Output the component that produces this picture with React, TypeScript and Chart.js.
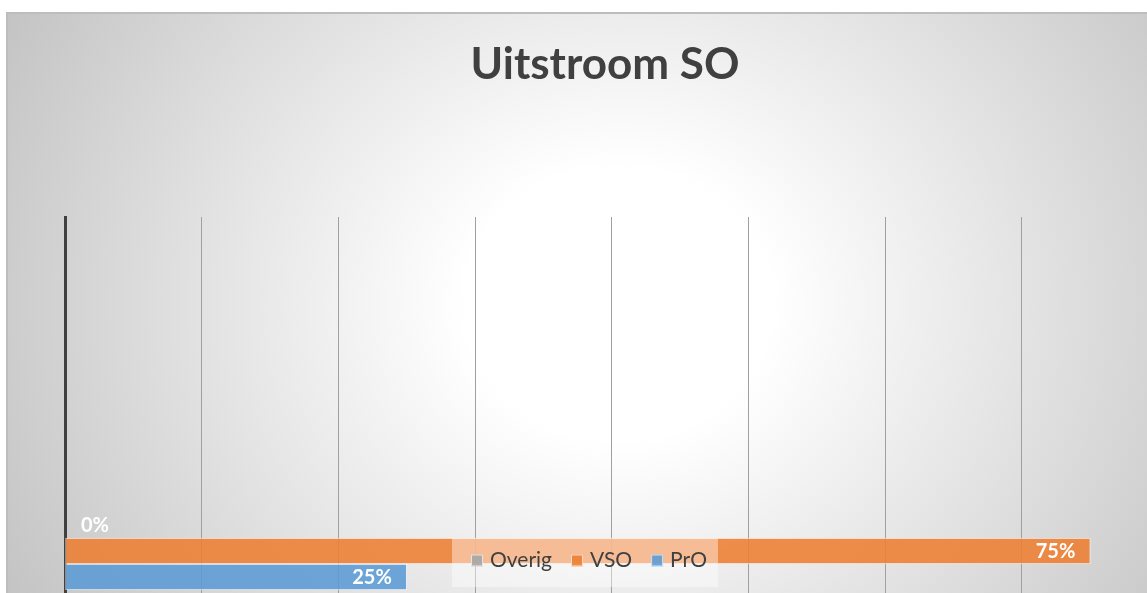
import React, { useEffect, useRef } from "react";
import { Chart, registerables } from "chart.js";

Chart.register(...registerables);

const chartTitle = "Uitstroom SO";
const seriesNames = ["Overig", "VSO", "PrO"];
const seriesValues = [0, 75, 25];
const seriesColors = [
  "rgba(165,165,165,0.88)",
  "rgba(237,125,49,0.88)",
  "rgba(91,155,213,0.88)",
];
const gridTicks = [10, 20, 30, 40, 50, 60, 70];

const FONT = "Lato, 'Open Sans', 'Liberation Sans', sans-serif";

const labelsPlugin = {
  id: "excelLabelsLegend",
  afterDatasetsDraw(chart: any) {
    const ctx = chart.ctx as CanvasRenderingContext2D;
    ctx.save();
    // overlay legend
    const boxX = 452;
    const boxY = 538;
    const boxH = 49;
    ctx.font = `21px ${FONT}`;
    const items = chart.data.datasets.map((d: any) => ({
      label: d.label as string,
      color: d.backgroundColor as string,
      w: ctx.measureText(d.label).width,
    }));
    let total = 19;
    items.forEach((it: any, i: number) => {
      total += 12 + 7 + it.w + (i < items.length - 1 ? 19 : 11);
    });
    ctx.fillStyle = "rgba(255,255,255,0.42)";
    ctx.fillRect(boxX, boxY, total, boxH);
    let cx = boxX + 19;
    items.forEach((it: any) => {
      ctx.fillStyle = it.color;
      ctx.fillRect(cx, 554.5, 12, 12);
      ctx.strokeStyle = "rgba(255,255,255,0.7)";
      ctx.lineWidth = 1;
      ctx.strokeRect(cx + 0.5, 555, 11, 11);
      ctx.fillStyle = "#404040";
      ctx.textAlign = "left";
      ctx.textBaseline = "alphabetic";
      ctx.fillText(it.label, cx + 19, 567);
      cx += 12 + 7 + it.w + 19;
    });
    // data labels
    ctx.font = `bold 20px ${FONT}`;
    ctx.fillStyle = "#ffffff";
    ctx.textBaseline = "alphabetic";
    chart.data.datasets.forEach((d: any, di: number) => {
      const meta = chart.getDatasetMeta(di);
      meta.data.forEach((el: any, i: number) => {
        const v = d.data[i].x;
        const txt = `${v}%`;
        if (v > 0) {
          ctx.textAlign = "right";
          ctx.fillText(txt, el.x - 15, el.y + 7);
        } else {
          ctx.textAlign = "left";
          ctx.fillText(txt, el.base + 16, el.y + 7);
        }
      });
    });
    ctx.restore();
  },
};

export default function App() {
  const canvasRef = useRef<HTMLCanvasElement | null>(null);

  useEffect(() => {
    document.body.style.margin = "0";
    const canvas = canvasRef.current;
    if (!canvas) return;
    const chart = new Chart(canvas, {
      type: "bar",
      data: {
        datasets: seriesNames.map((name, i) => ({
          label: name,
          data: [{ x: seriesValues[i], y: 0 }],
          backgroundColor: seriesColors[i],
          borderColor: "rgba(255,255,255,0.6)",
          borderWidth: 1,
          borderSkipped: false,
          barThickness: 26,
        })),
      },
      options: {
        indexAxis: "y",
        animation: false,
        responsive: false,
        layout: { padding: { left: 65, right: 2, top: 0, bottom: 0 } },
        plugins: {
          legend: { display: false },
          tooltip: { enabled: false },
          title: {
            display: true,
            text: chartTitle,
            color: "#404040",
            font: { family: FONT, size: 44, weight: "bold" },
            padding: { top: 38, bottom: 126.2 },
          },
        },
        scales: {
          x: {
            type: "linear",
            min: 0,
            max: 79,
            offset: false,
            ticks: { display: false, stepSize: 10 },
            grid: {
              drawTicks: false,
              lineWidth: 1,
              offset: false,
              color: (c: any) =>
                c.tick && gridTicks.includes(c.tick.value) ? "#a0a0a0" : "rgba(0,0,0,0)",
            },
            border: { display: false },
            afterFit: (s: any) => {
              s.height = 0;
            },
          },
          y: {
            type: "linear",
            min: -42,
            max: 334,
            offset: false,
            ticks: { display: false },
            grid: { display: false, drawTicks: false, offset: false },
            border: { display: true, color: "#404040", width: 3 },
            afterFit: (s: any) => {
              s.width = 0;
            },
          },
        },
      } as any,
      plugins: [labelsPlugin],
    });
    return () => chart.destroy();
  }, []);

  return (
    <div
      style={{
        position: "relative",
        width: 1147,
        height: 593,
        overflow: "hidden",
        background: "#ffffff",
      }}
    >
      <div
        style={{
          position: "absolute",
          left: 6,
          top: 12,
          width: 1220,
          height: 660,
          borderTop: "2px solid #bdbdbd",
          borderLeft: "2px solid #bdbdbd",
          background:
            "radial-gradient(ellipse 700px 620px at 610px 290px, #ffffff 0%, #ffffff 22%, #c3c3c3 100%)",
        }}
      />
      <canvas
        ref={canvasRef}
        width={1147}
        height={593}
        style={{ position: "absolute", left: 0, top: 0, width: 1147, height: 593 }}
      />
    </div>
  );
}
